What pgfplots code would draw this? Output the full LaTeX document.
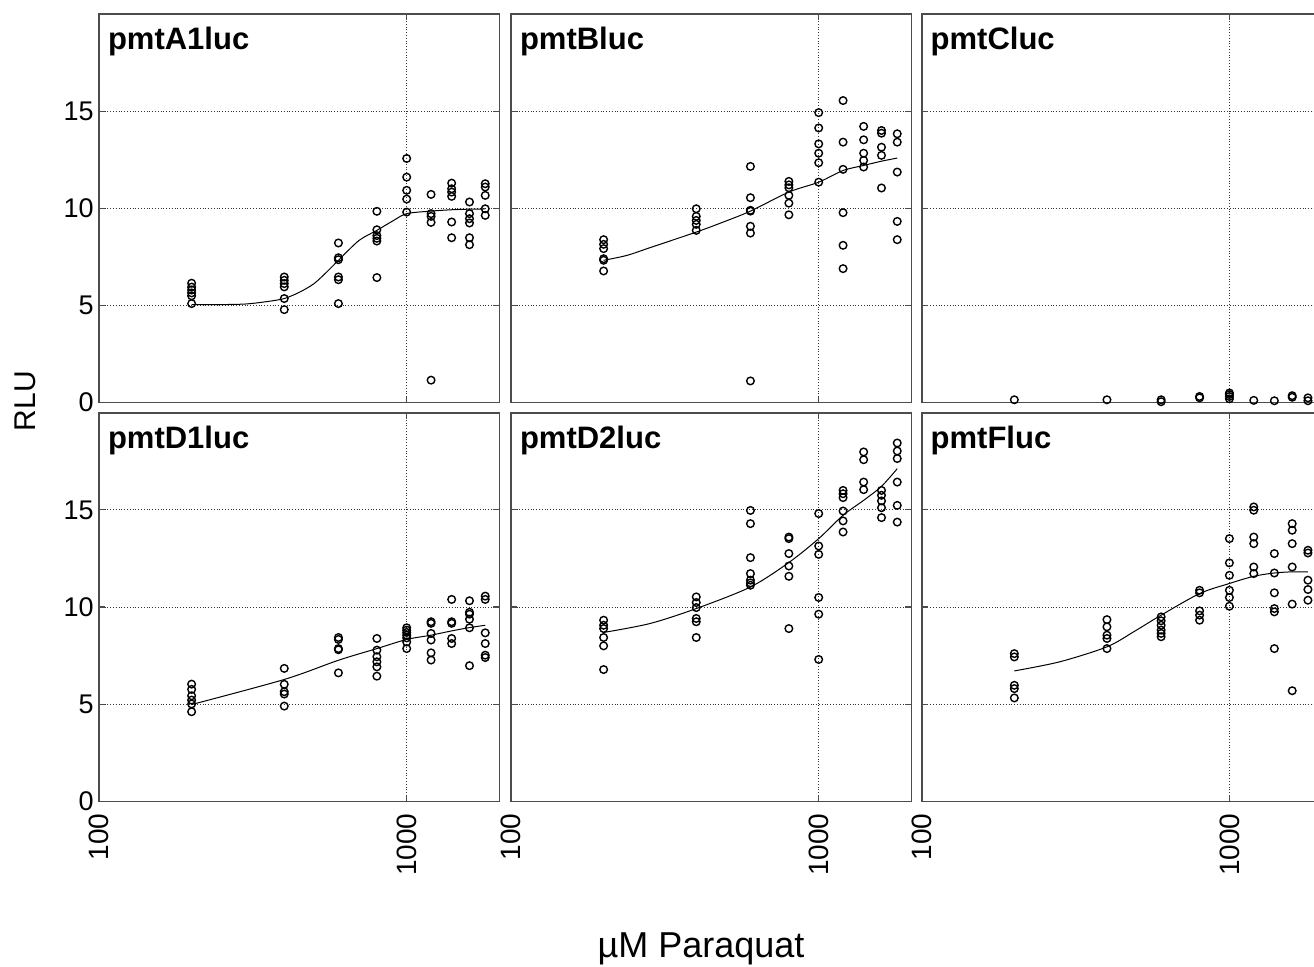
\documentclass[border=0pt]{standalone}
\usepackage{pgfplots}
\pgfplotsset{compat=1.18}
\usepackage{fontspec}
\setmainfont{Liberation Sans}
\pgfplotsset{/pgf/number format/assume math mode=true}

\newcommand{\PanelBegin}[3]{%
\begin{axis}[scale only axis, width=200.15pt, height=194.3pt,
  at={#1}, anchor=south west,
  xmode=log, xmin=100, xmax=2000, ymin=0, ymax=20,
  xtick={100,1000}, ytick={0,5,10,15},
  minor tick length=0pt, minor tick style={draw=none},
  xmajorgrids, ymajorgrids,
  major grid style={densely dotted, black!80, line width=0.5pt},
  axis line style={black!70, line width=0.8pt},
  major tick style={black!70, line width=0.6pt},
  major tick length=3pt,
  tick label style={font=\fontsize{13.5}{16}\selectfont},
  xticklabels={#2}, yticklabels={#3},
  yticklabel style={inner xsep=2.5pt},
  xticklabel style={font=\fontsize{14}{16}\selectfont, yshift=-4pt, rotate=90, anchor=east, inner xsep=2pt}]}
\newcommand{\ptitle}[1]{\node[anchor=north west, inner sep=0pt, font=\fontsize{15.5}{18}\selectfont\bfseries] at (rel axis cs:0,1) [xshift=4.3pt, yshift=-6.3pt] {#1};}

\begin{document}
\begin{tikzpicture}
\clip[use as bounding box] (0,0) rectangle (657pt,483pt);

% ---- pmtA1luc
\PanelBegin{(49.5pt,281.65pt)}{}{0,5,10,15}
\addplot[only marks, mark=o, mark size=1.9pt, mark options={line width=0.7pt, draw=black}] coordinates {
(200,6.15)(200,5.95)(200,5.8)(200,5.65)(200,5.5)(200,5.1)
(400,6.47)(400,6.3)(400,6.13)(400,5.96)(400,5.36)(400,4.79)
(600,8.22)(600,7.46)(600,7.36)(600,6.47)(600,6.33)(600,5.1)
(800,9.85)(800,8.9)(800,8.6)(800,8.46)(800,8.32)(800,6.44)
(1000,12.57)(1000,11.61)(1000,10.93)(1000,10.48)(1000,9.81)
(1200,10.72)(1200,9.73)(1200,9.59)(1200,9.28)(1200,1.16)
(1400,11.3)(1400,11.01)(1400,10.84)(1400,10.62)(1400,9.3)(1400,8.49)
(1600,10.33)(1600,9.73)(1600,9.47)(1600,9.25)(1600,8.49)(1600,8.13)
(1800,11.27)(1800,11.1)(1800,10.67)(1800,9.98)(1800,9.64)
};
\addplot[no marks, smooth, black, line width=0.5pt] coordinates {(200,5.05)(250,5.05)(300,5.08)(350,5.2)(400,5.36)(450,5.7)(500,6.13)(550,6.73)(600,7.33)(700,8.35)(800,8.87)(900,9.35)(1000,9.73)(1200,9.86)(1400,9.93)(1600,9.96)(1800,9.97)};
\ptitle{pmtA1luc}
\end{axis}

% ---- pmtBluc
\PanelBegin{(255.5pt,281.65pt)}{}{}
\addplot[only marks, mark=o, mark size=1.9pt, mark options={line width=0.7pt, draw=black}] coordinates {
(200,8.39)(200,8.15)(200,7.93)(200,7.41)(200,7.33)(200,6.78)
(400,9.98)(400,9.59)(400,9.38)(400,9.18)(400,8.87)
(600,12.16)(600,10.55)(600,9.9)(600,9.86)(600,9.08)(600,8.73)(600,1.12)
(800,11.39)(800,11.21)(800,11.06)(800,10.67)(800,10.27)(800,9.67)
(1000,14.93)(1000,14.14)(1000,13.32)(1000,12.84)(1000,12.35)(1000,11.35)
(1200,15.55)(1200,13.41)(1200,12.01)(1200,9.78)(1200,8.1)(1200,6.9)
(1400,14.22)(1400,13.53)(1400,12.84)(1400,12.47)(1400,12.13)
(1600,14.01)(1600,13.87)(1600,13.15)(1600,12.73)(1600,11.05)
(1800,13.84)(1800,13.41)(1800,11.87)(1800,9.33)(1800,8.39)
};
\addplot[no marks, smooth, black, line width=0.5pt] coordinates {(200,7.33)(238,7.58)(283,7.98)(400,8.78)(490,9.3)(600,9.86)(800,10.84)(1000,11.35)(1200,11.95)(1400,12.21)(1600,12.43)(1800,12.59)};
\ptitle{pmtBluc}
\end{axis}

% ---- pmtCluc
\PanelBegin{(460.85pt,281.65pt)}{}{}
\addplot[only marks, mark=o, mark size=1.9pt, mark options={line width=0.7pt, draw=black}] coordinates {
(200,0.15)(400,0.15)
(600,0.15)(600,0.05)(600,-0.05)
(800,0.25)(800,0.32)
(1000,0.2)(1000,0.32)(1000,0.42)(1000,0.5)
(1200,0.12)(1400,0.1)
(1600,0.28)(1600,0.36)
(1800,0.25)(1800,0.1)(1800,-0.1)
};
\ptitle{pmtCluc}
\end{axis}

% ---- pmtD1luc
\PanelBegin{(49.5pt,82.35pt)}{100,1000}{0,5,10,15}
\addplot[only marks, mark=o, mark size=1.9pt, mark options={line width=0.7pt, draw=black}] coordinates {
(200,6.03)(200,5.76)(200,5.43)(200,5.21)(200,5.01)(200,4.61)
(400,6.84)(400,6.02)(400,5.64)(400,5.52)(400,4.9)
(600,8.43)(600,8.33)(600,7.86)(600,7.8)(600,6.61)
(800,8.38)(800,7.78)(800,7.44)(800,7.18)(800,6.92)(800,6.44)
(1000,8.93)(1000,8.81)(1000,8.69)(1000,8.55)(1000,8.41)(1000,8.2)(1000,7.86)
(1200,9.24)(1200,9.16)(1200,8.64)(1200,8.3)(1200,7.64)(1200,7.27)
(1400,10.39)(1400,9.24)(1400,9.16)(1400,8.38)(1400,8.12)
(1600,10.32)(1600,9.73)(1600,9.63)(1600,9.37)(1600,8.93)(1600,6.98)
(1800,10.56)(1800,10.39)(1800,8.67)(1800,8.12)(1800,7.52)(1800,7.4)
};
\addplot[no marks, smooth, black, line width=0.5pt] coordinates {(200,4.98)(400,6.27)(600,7.26)(800,7.86)(1000,8.33)(1200,8.55)(1400,8.77)(1600,8.94)(1800,9.06)};
\ptitle{pmtD1luc}
\end{axis}

% ---- pmtD2luc
\PanelBegin{(255.5pt,82.35pt)}{100,1000}{}
\addplot[only marks, mark=o, mark size=1.9pt, mark options={line width=0.7pt, draw=black}] coordinates {
(200,9.32)(200,9.06)(200,8.89)(200,8.43)(200,8.0)(200,6.78)
(400,10.52)(400,10.23)(400,9.97)(400,9.41)(400,9.24)(400,8.43)
(600,14.97)(600,14.29)(600,12.54)(600,11.72)(600,11.38)(600,11.24)(600,11.12)
(800,13.6)(800,13.52)(800,12.75)(800,12.11)(800,11.58)(800,8.89)
(1000,14.81)(1000,13.14)(1000,12.71)(1000,10.49)(1000,9.63)(1000,7.3)
(1200,16.0)(1200,15.83)(1200,15.63)(1200,14.94)(1200,14.43)(1200,13.86)
(1400,17.98)(1400,17.58)(1400,16.43)(1400,16.04)
(1600,16.0)(1600,15.75)(1600,15.46)(1600,15.11)(1600,14.6)
(1800,18.44)(1800,18.03)(1800,17.64)(1800,16.43)(1800,15.23)(1800,14.37)
};
\addplot[no marks, smooth, black, line width=0.5pt] coordinates {(200,8.69)(283,9.15)(400,9.92)(600,11.03)(800,12.29)(1000,13.52)(1200,14.72)(1400,15.49)(1600,16.21)(1800,17.12)};
\ptitle{pmtD2luc}
\end{axis}

% ---- pmtFluc
\PanelBegin{(460.85pt,82.35pt)}{100,1000}{}
\addplot[only marks, mark=o, mark size=1.9pt, mark options={line width=0.7pt, draw=black}] coordinates {
(200,7.6)(200,7.43)(200,5.97)(200,5.8)(200,5.32)
(400,9.35)(400,8.98)(400,8.55)(400,8.38)(400,7.86)
(600,9.49)(600,9.29)(600,9.06)(600,8.81)(600,8.64)(600,8.47)
(800,10.86)(800,10.73)(800,9.8)(800,9.58)(800,9.32)
(1000,13.52)(1000,12.27)(1000,11.63)(1000,10.86)(1000,10.49)(1000,10.04)
(1200,15.15)(1200,14.98)(1200,13.6)(1200,13.26)(1200,12.06)(1200,11.72)
(1400,12.75)(1400,11.75)(1400,10.73)(1400,9.92)(1400,9.75)(1400,7.86)
(1600,14.29)(1600,13.95)(1600,13.26)(1600,12.06)(1600,10.15)(1600,5.69)
(1800,12.92)(1800,12.78)(1800,11.38)(1800,10.9)(1800,10.35)
};
\addplot[no marks, smooth, black, line width=0.5pt] coordinates {(200,6.71)(281,7.18)(400,7.95)(488,8.72)(600,9.58)(800,10.69)(1000,11.21)(1200,11.58)(1400,11.75)(1600,11.81)(1800,11.81)};
\ptitle{pmtFluc}
\end{axis}

\node[rotate=90, font=\fontsize{15}{17}\selectfont] at (12.5pt,282.5pt) {RLU};
\node[anchor=base, font=\fontsize{18}{21}\selectfont, inner sep=0pt] at (350.5pt,4.5pt) {µM Paraquat};
\end{tikzpicture}
\end{document}
